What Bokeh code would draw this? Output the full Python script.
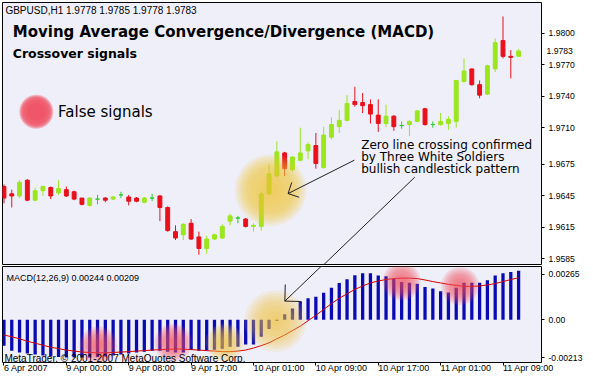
import math
from bokeh.plotting import figure
from bokeh.layouts import column
from bokeh.models import (Range1d, FixedTicker, Label, PrintfTickFormatter, ColumnDataSource,
                          LinearAxis)
from bokeh.embed import file_html
from bokeh.resources import INLINE

# ---------------- data ----------------
SYMBOL = "GBPUSD,H1"
HEADER_OHLC = ["1.9778", "1.9785", "1.9778", "1.9783"]
TITLE = "Moving Average Convergence/Divergence (MACD)"
SUBTITLE = "Crossover signals"
LEGEND_LABEL = "False signals"
NOTE_LINES = ["Zero line crossing confirmed", "by Three White Soldiers", "bullish candlestick pattern"]
MACD_LABEL = "MACD(12,26,9) 0.00244 0.00209"
COPYRIGHT = "MetaTrader, \u00a9 2001-2007 MetaQuotes Software Corp."

BAR = list(range(67))
OPEN = [1.9654, 1.9647, 1.9645, 1.9660, 1.9641, 1.9650, 1.9653, 1.9648, 1.9651, 1.9649,
        1.9643, 1.9636, 1.9642, 1.9643, 1.9642, 1.9646, 1.9644, 1.9643, 1.9639, 1.9643,
        1.9645, 1.9634, 1.9611, 1.9608, 1.9619, 1.9606, 1.9595, 1.9604, 1.9605, 1.9621,
        1.9624, 1.9623, 1.9616, 1.9616, 1.9647, 1.9664, 1.9686, 1.9670, 1.9679, 1.9688,
        1.9693, 1.9672, 1.9701, 1.9711, 1.9717, 1.9735, 1.9734, 1.9732, 1.9722, 1.9714,
        1.9721, 1.9712, 1.9713, 1.9716, 1.9728, 1.9713, 1.9713, 1.9714, 1.9716, 1.9754,
        1.9766, 1.9751, 1.9742, 1.9766, 1.9793, 1.9778, 1.9778]
HIGH = [1.9656, 1.9651, 1.9660, 1.9661, 1.9653, 1.9655, 1.9654, 1.9660, 1.9654, 1.9650,
        1.9643, 1.9644, 1.9646, 1.9644, 1.9645, 1.9649, 1.9646, 1.9644, 1.9644, 1.9647,
        1.9646, 1.9635, 1.9617, 1.9619, 1.9623, 1.9611, 1.9607, 1.9609, 1.9618, 1.9628,
        1.9626, 1.9624, 1.9619, 1.9649, 1.9675, 1.9697, 1.9687, 1.9683, 1.9710, 1.9696,
        1.9705, 1.9711, 1.9720, 1.9727, 1.9741, 1.9749, 1.9743, 1.9737, 1.9737, 1.9732,
        1.9722, 1.9716, 1.9717, 1.9727, 1.9729, 1.9716, 1.9724, 1.9721, 1.9755, 1.9776,
        1.9766, 1.9755, 1.9770, 1.9795, 1.9816, 1.9784, 1.9785]
LOW = [1.9638, 1.9634, 1.9643, 1.9640, 1.9640, 1.9645, 1.9642, 1.9646, 1.9644, 1.9641,
       1.9636, 1.9635, 1.9637, 1.9639, 1.9641, 1.9643, 1.9636, 1.9639, 1.9638, 1.9640,
       1.9621, 1.9611, 1.9603, 1.9603, 1.9603, 1.9589, 1.9590, 1.9603, 1.9604, 1.9617,
       1.9619, 1.9615, 1.9611, 1.9612, 1.9646, 1.9663, 1.9664, 1.9668, 1.9678, 1.9680,
       1.9671, 1.9671, 1.9699, 1.9705, 1.9716, 1.9730, 1.9724, 1.9714, 1.9706, 1.9711,
       1.9707, 1.9709, 1.9702, 1.9715, 1.9712, 1.9710, 1.9712, 1.9708, 1.9710, 1.9753,
       1.9750, 1.9738, 1.9741, 1.9763, 1.9776, 1.9757, 1.9778]
CLOSE = [1.9643, 1.9645, 1.9658, 1.9641, 1.9650, 1.9654, 1.9645, 1.9652, 1.9645, 1.9642,
         1.9637, 1.9643, 1.9642, 1.9641, 1.9644, 1.9646, 1.9640, 1.9640, 1.9643, 1.9643,
         1.9634, 1.9612, 1.9605, 1.9618, 1.9604, 1.9595, 1.9604, 1.9608, 1.9616, 1.9626,
         1.9624, 1.9616, 1.9617, 1.9647, 1.9666, 1.9687, 1.9671, 1.9682, 1.9686, 1.9694,
         1.9676, 1.9703, 1.9713, 1.9717, 1.9733, 1.9732, 1.9731, 1.9723, 1.9714, 1.9721,
         1.9711, 1.9712, 1.9716, 1.9726, 1.9713, 1.9713, 1.9716, 1.9718, 1.9755, 1.9764,
         1.9751, 1.9741, 1.9769, 1.9791, 1.9778, 1.9777, 1.9783]
MACD = [-0.00129, -0.00154, -0.00163, -0.00168, -0.00173, -0.00178, -0.00183, -0.00185, -0.00188, -0.00188,
        -0.00188, -0.00188, -0.00185, -0.00183, -0.00178, -0.00173, -0.00168, -0.00163, -0.00159, -0.00154,
        -0.00154, -0.00159, -0.00163, -0.00163, -0.00150, -0.00155, -0.00155, -0.00150, -0.00144, -0.00134,
        -0.00134, -0.00123, -0.00123, -0.00085, -0.00046, -0.00005, 0.00027, 0.00056, 0.00090, 0.00107,
        0.00115, 0.00134, 0.00159, 0.00183, 0.00202, 0.00222, 0.00232, 0.00232, 0.00220, 0.00217,
        0.00204, 0.00188, 0.00184, 0.00179, 0.00163, 0.00155, 0.00142, 0.00136, 0.00159, 0.00184,
        0.00184, 0.00184, 0.00196, 0.00220, 0.00232, 0.00237, 0.00244]
SIGNAL = [-0.00076, -0.00085, -0.00095, -0.00107, -0.00117, -0.00127, -0.00137, -0.00144, -0.00151, -0.00156,
          -0.00161, -0.00163, -0.00165, -0.00165, -0.00163, -0.00161, -0.00159, -0.00156, -0.00154, -0.00151,
          -0.00149, -0.00147, -0.00146, -0.00146, -0.00149, -0.00151, -0.00154, -0.00156, -0.00159, -0.00159,
          -0.00156, -0.00151, -0.00141, -0.00129, -0.00115, -0.00095, -0.00076, -0.00054, -0.00032, -0.00005,
          0.00022, 0.00051, 0.00080, 0.00107, 0.00129, 0.00151, 0.00168, 0.00183, 0.00193, 0.00200,
          0.00205, 0.00207, 0.00207, 0.00205, 0.00198, 0.00190, 0.00183, 0.00176, 0.00171, 0.00166,
          0.00166, 0.00168, 0.00173, 0.00180, 0.00190, 0.00200, 0.00209]

PRICE_TICKS = [1.9800, 1.9770, 1.9740, 1.9710, 1.9675, 1.9645, 1.9615, 1.9585]
LAST_PRICE = 1.9783
MACD_MAX = 0.00265
MACD_MIN = -0.00213
TIME_TICKS = [0, 8, 16, 24, 32, 40, 48, 56, 64]
TIME_LABELS = ["6 Apr 2007", "9 Apr 00:00", "9 Apr 08:00", "9 Apr 17:00", "10 Apr 01:00",
               "10 Apr 09:00", "10 Apr 17:00", "11 Apr 01:00", "11 Apr 09:00"]

# highlight spots (bar index, value)
MAIN_GLOW_BAR, MAIN_GLOW_PRICE = [34.2], [1.96505]
LEGEND_DOT_BAR, LEGEND_DOT_PRICE = [4.15], [1.97252]
MACD_FALSE_BARS = [12.1, 21.7, 51.0, 58.5]
MACD_FALSE_VALUES = [-0.00128, -0.00115, 0.00191, 0.00168]
MACD_CROSS_BARS_SMALL, MACD_CROSS_VALUES_SMALL = [28.3], [-0.00115]
MACD_CROSS_BARS_BIG, MACD_CROSS_VALUES_BIG = [34.8], [-0.00007]

# ---------------- styling ----------------
BG = "#EFEFFA"
BULL = "#9BE61E"
BEAR = "#E8101A"
DOJI = "#2BCB2B"
BLUE = "#0A0AB4"
SIG_RED = "#D40000"
RED_GLOW = "#F0485A"
YEL_GLOW = "#F2C234"
SMALL_FONT = "Liberation Sans"
BIG_FONT = "DejaVu Sans"


# reference-pixel helpers used for annotation placement only
def bx(px):
    return (px - 3.5) / 8.0


def py(px):
    return 1.9800 - (px - 33.3) / 10700.0


def my(px):
    return (326.3 - px) / 20502.0


colors = [BULL if c > o else (BEAR if c < o else DOJI) for o, c in zip(OPEN, CLOSE)]
src = ColumnDataSource(dict(
    x=BAR, open=OPEN, high=HIGH, low=LOW, close=CLOSE,
    top=[max(o, c) for o, c in zip(OPEN, CLOSE)],
    bottom=[min(o, c) for o, c in zip(OPEN, CLOSE)],
    color=colors))

x_range = Range1d(bx(2), bx(555))


def style_axis(ax, size="8.6px"):
    ax.axis_line_color = None
    ax.major_tick_out = 3
    ax.major_tick_in = 0
    ax.minor_tick_line_color = None
    ax.major_tick_line_color = "black"
    ax.major_label_text_font = SMALL_FONT
    ax.major_label_text_font_size = size
    ax.major_label_text_color = "black"
    ax.major_label_standoff = 4


# ---------------- main price panel ----------------
p = figure(width=585, height=265, x_range=x_range, y_range=Range1d(py(269), py(2)),
           output_backend="svg", toolbar_location=None, x_axis_location=None,
           y_axis_location="right", min_border_left=2, min_border_right=38,
           min_border_top=2, min_border_bottom=1, background_fill_color=BG,
           border_fill_color="white", outline_line_color="black", outline_line_width=1)
p.grid.visible = False
style_axis(p.yaxis[0])
p.yaxis[0].ticker = FixedTicker(ticks=PRICE_TICKS)
p.yaxis[0].formatter = PrintfTickFormatter(format="%.4f")

# last-price tag: a second right axis whose single label is pulled back over the price scale
tag = LinearAxis(ticker=FixedTicker(ticks=[LAST_PRICE]), formatter=PrintfTickFormatter(format="%.4f"))
style_axis(tag)
tag.major_tick_out = 0
tag.major_tick_line_color = None
tag.major_label_standoff = -31
axis_props = LinearAxis.properties()
if "major_label_background_fill_color" in axis_props:
    tag.major_label_background_fill_color = "black"
    tag.major_label_text_color = "white"
p.add_layout(tag, "right")

p.segment(x0="x", y0="low", x1="x", y1="high", source=src, line_color="color", line_width=1)
p.vbar(x="x", width=0.5, top="top", bottom="bottom", source=src,
       fill_color="color", line_color="color", line_width=1)


def glow(fig, xs, ys, color, radii, alpha):
    for r in radii:
        fig.scatter(xs, ys, size=2 * r, marker="circle", fill_color=color,
                    fill_alpha=alpha, line_color=None)


glow(p, MAIN_GLOW_BAR, MAIN_GLOW_PRICE, YEL_GLOW, [36, 34, 32, 30, 28, 26, 24, 20, 14, 8], 0.12)
glow(p, LEGEND_DOT_BAR, LEGEND_DOT_PRICE, RED_GLOW, [17, 16, 15, 14, 12, 9], 0.34)


def arrow(fig, tail, tip, yconv, arm=None):
    (x1, y1), (x2, y2) = tail, tip
    xs0, ys0, xs1, ys1 = [bx(x1)], [yconv(y1)], [bx(x2)], [yconv(y2)]
    if arm:
        dx, dy = x1 - x2, y1 - y2
        L = math.hypot(dx, dy)
        ux, uy = dx / L, dy / L
        for s in (1, -1):
            c, sn = math.cos(math.pi / 4), s * math.sin(math.pi / 4)
            ax_, ay_ = ux * c - uy * sn, ux * sn + uy * c
            xs0.append(bx(x2)); ys0.append(yconv(y2))
            xs1.append(bx(x2 + arm * ax_)); ys1.append(yconv(y2 + arm * ay_))
    fig.segment(x0=xs0, y0=ys0, x1=xs1, y1=ys1, line_color="#202020", line_width=1)


arrow(p, (363, 162.7), (295, 196.7), py, arm=12)
arrow(p, (425, 180), (291.7, 307.3), py)


def label(fig, xpx, ypx, text, size, font=SMALL_FONT, bold=False, yconv=py, color="black"):
    fig.add_layout(Label(x=bx(xpx), y=yconv(ypx), text=text, text_font=font,
                         text_font_size=size, text_font_style="bold" if bold else "normal",
                         text_baseline="middle", text_align="left", text_color=color))


label(p, 5, 10, SYMBOL + "  " + " ".join(HEADER_OHLC), "10px")
label(p, 12.5, 32.5, TITLE, "15px", font=BIG_FONT, bold=True)
label(p, 12.5, 54, SUBTITLE, "12.5px", font=BIG_FONT, bold=True)
label(p, 59, 113.5, LEGEND_LABEL, "15px", font=BIG_FONT)
for k, line in enumerate(NOTE_LINES):
    label(p, 370, 147.5 + 12.3 * k, line, "12px", font=BIG_FONT)

# ---------------- MACD panel ----------------
q = figure(width=585, height=116, x_range=x_range, y_range=Range1d(MACD_MIN, MACD_MAX),
           output_backend="svg", toolbar_location=None, y_axis_location="right",
           min_border_left=2, min_border_right=38, min_border_top=1, min_border_bottom=19,
           background_fill_color=BG, border_fill_color="white",
           outline_line_color="black", outline_line_width=1)
q.grid.visible = False
style_axis(q.yaxis[0])
top_tick, bot_tick = round(my(279.7), 5), round(my(365.3), 5)
q.yaxis[0].ticker = FixedTicker(ticks=[top_tick, 0.0, bot_tick])
q.yaxis[0].major_label_overrides = {top_tick: "%.5f" % MACD_MAX, 0.0: "0.00",
                                    bot_tick: "%.5f" % MACD_MIN}
style_axis(q.xaxis[0], size="9px")
q.xaxis[0].ticker = FixedTicker(ticks=TIME_TICKS)
q.xaxis[0].major_label_overrides = {t: s for t, s in zip(TIME_TICKS, TIME_LABELS)}
q.xaxis[0].major_label_orientation = -0.0001
q.xaxis[0].major_label_standoff = 2

q.vbar(x=BAR, top=MACD, bottom=0, width=0.42, fill_color=BLUE, line_color=None)
q.line(BAR, SIGNAL, line_color=SIG_RED, line_width=1)

glow(q, MACD_FALSE_BARS, MACD_FALSE_VALUES, RED_GLOW, [19, 17, 15, 13, 11, 8, 5], 0.15)
glow(q, MACD_CROSS_BARS_SMALL, MACD_CROSS_VALUES_SMALL, YEL_GLOW, [19, 17, 15, 13, 11, 8, 5], 0.14)
glow(q, MACD_CROSS_BARS_BIG, MACD_CROSS_VALUES_BIG, YEL_GLOW, [31, 28, 25, 22, 19, 15, 10, 5], 0.13)

arrow(q, (425, 180), (291.7, 307.3), my, arm=17)

label(q, 6, 283.3, MACD_LABEL, "9px", yconv=my)
label(q, 4, 365.5, COPYRIGHT, "10px", yconv=my)

layout = column(p, q, spacing=0)
open("out.html", "w").write(file_html(layout, INLINE))
